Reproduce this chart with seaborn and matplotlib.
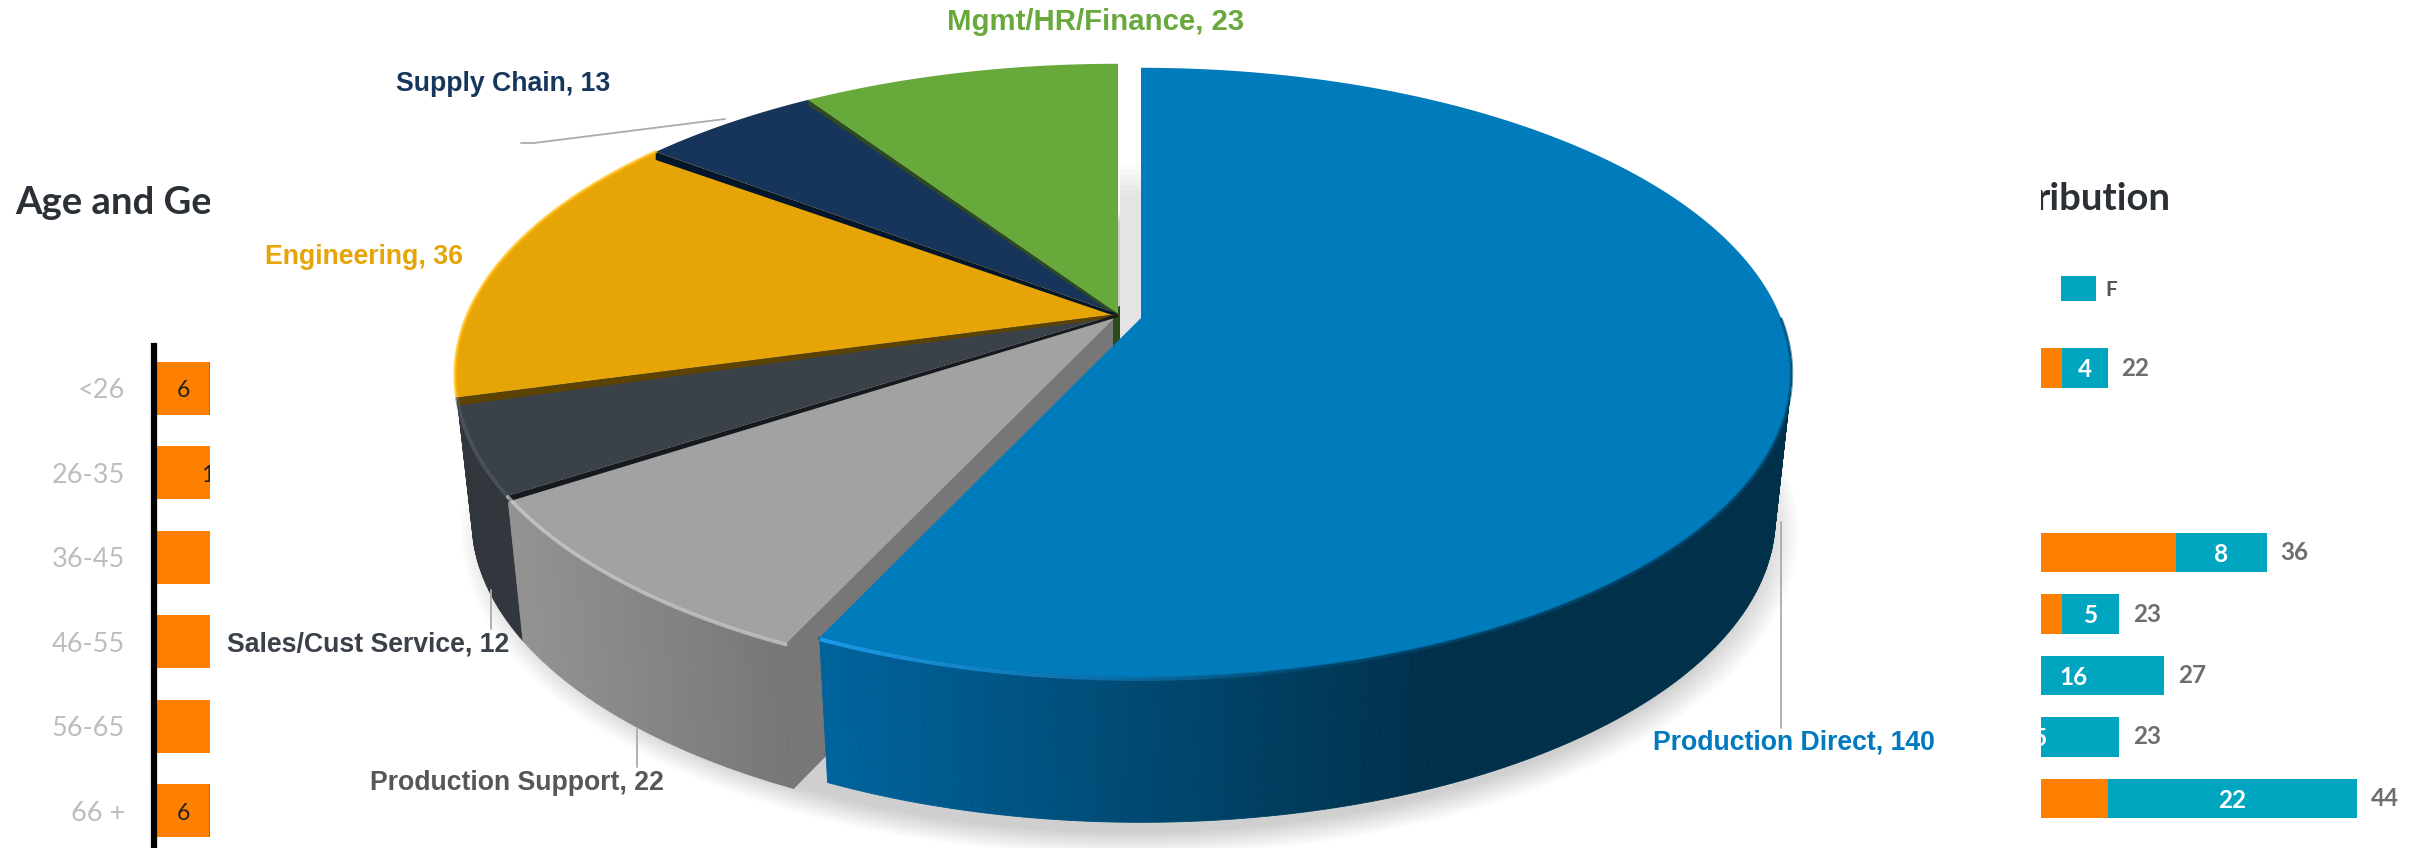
import numpy as np
import pandas as pd
import matplotlib
matplotlib.use("Agg")
import matplotlib.pyplot as plt
from matplotlib.colors import to_rgb
import seaborn as sns

# ---------- data ----------
pie_labels = ["Production Direct", "Production Support", "Sales/Cust Service", "Engineering", "Supply Chain", "Mgmt/HR/Finance"]
pie_values = [140, 22, 12, 36, 13, 23]
pie_colors = ["#007BBB", "#A2A2A2", "#3A4149", "#E6A406", "#17355B", "#68A93B"]
pie_cut_colors = ["#005a8c", "#777777", "#16191E", "#5C4203", "#04162B", "#2F4A1C"]

age_groups = ["<26", "26-35", "36-45", "46-55", "56-65", "66 +"]
age_m = [6, 13, 24, 30, 22, 6]
age_f = [1, 4, 8, 9, 6, 1]
age_m_labels = ["6", "13", "", "", "", "6"]

dist_rows = ["a", "b", "c", "d", "e", "f", "g", "h"]
dist_m = [18, np.nan, np.nan, 28, 18, 11, 8, 22]
dist_f = [4, np.nan, np.nan, 8, 5, 16, 15, 22]
dist_total = [22, np.nan, np.nan, 36, 23, 27, 23, 44]

W, H = 2428, 848
ORANGE, TEAL = "#FF8000", "#00A6C0"
sns.set_theme(style="white")
plt.rcParams["font.family"] = ["Lato", "DejaVu Sans"]
fig = plt.figure(figsize=(W / 100, H / 100), dpi=100, facecolor="white")

def px_axes(x0, y0, x1, y1):
    return fig.add_axes([x0 / W, 1 - y1 / H, (x1 - x0) / W, (y1 - y0) / H])

# ---------- left fragment: age bars ----------
PITCH_L = 84.5
axL = px_axes(154, 346, 210, 346 + 6 * PITCH_L)
dfL = pd.DataFrame({"age": age_groups, "m": age_m, "t": np.add(age_m, age_f)})
sns.barplot(dfL, y="age", x="t", color=TEAL, width=0.633, ax=axL, saturation=1, linewidth=0)
sns.barplot(dfL, y="age", x="m", color=ORANGE, width=0.633, ax=axL, saturation=1, linewidth=0)
axL.set_xlim(-3 / 8.75, 56 / 8.75 - 3 / 8.75)
axL.set_xlabel(""); axL.set_ylabel("")
axL.set_xticks([])
axL.tick_params(axis="y", length=0, pad=21, labelsize=19.5, labelcolor="#BDBDBD")
for s in ["top", "right", "bottom"]:
    axL.spines[s].set_visible(False)
axL.spines["left"].set_color("black")
axL.spines["left"].set_linewidth(4.5)
for i, (m, lab_) in enumerate(zip(age_m, age_m_labels)):
    if lab_:
        axL.text(m / 2, i + 0.03, lab_, ha="center", va="center", fontsize=16.5, color="#222222", clip_on=True)

# ---------- right fragment: stacked bars ----------
PITCH_R = 61.5
y0R = 368 - PITCH_R / 2
axR = px_axes(2041, y0R, W, y0R + 8 * PITCH_R)
dfR = pd.DataFrame({"row": dist_rows, "m": dist_m, "t": dist_total})
sns.barplot(dfR, y="row", x="t", color=TEAL, width=0.64, ax=axR, saturation=1, linewidth=0)
sns.barplot(dfR, y="row", x="m", color=ORANGE, width=0.64, ax=axR, saturation=1, linewidth=0)
SC = 11.35
axR.set_xlim((2041 - 1858) / SC, (W - 1858) / SC)
axR.set_xlabel(""); axR.set_ylabel("")
axR.set_xticks([]); axR.set_yticks([])
sns.despine(ax=axR, left=True, bottom=True)
for i, (m, f, t) in enumerate(zip(dist_m, dist_f, dist_total)):
    if np.isnan(t):
        continue
    axR.text(m + f / 2, i + 0.03, str(int(f)), ha="center", va="center", fontsize=17.5,
             color="white", fontweight="bold", clip_on=True)
    axR.text(t + 1.2, i, str(int(t)), ha="left", va="center", fontsize=17.5, color="#6E6E6E", fontweight="bold", clip_on=True)

# ---------- overlay axes in pixel space ----------
ax = fig.add_axes([0, 0, 1, 1], zorder=5)
ax.set_xlim(0, W); ax.set_ylim(H, 0); ax.axis("off"); ax.patch.set_alpha(0)

# clipped titles
clipL = plt.Rectangle((0, 0), 210, H, transform=ax.transData)
clipR = plt.Rectangle((2041, 0), W - 2041, H, transform=ax.transData)
t1 = ax.text(15, 203, "Age and Ge", fontsize=27.5, fontweight="bold", color="#2B2F36", ha="left", va="center")
t1.set_clip_path(clipL); t1.set_clip_on(True)
t2 = ax.text(2036, 199, "ribution", fontsize=27.5, fontweight="bold", color="#2B2F36", ha="left", va="center")
t2.set_clip_path(clipR); t2.set_clip_on(True)
# legend fragment
ax.add_patch(plt.Rectangle((2061, 275.5), 35, 25.5, color=TEAL, lw=0))
ax.text(2105, 290, "F", fontsize=15, fontweight="bold", color="#555555", ha="left", va="center")

# ---------- perspective pie ----------
DEPTH, SHR = 145, 0.975

def project(theta, r=1.0, cx=1141, cy=318, b=640, k=0.179, a=295, z=0.0):
    """theta clockwise from 12 o'clock, degrees; z in 0..1 is extrusion depth."""
    t = np.radians(theta)
    x, y = r * np.sin(t), r * np.cos(t)
    d = 1 + k * y
    s = 1 - (1 - SHR) * z
    return cx + s * b * x / d, cy + z * DEPTH - a * y / d

edges = np.concatenate([[0], np.cumsum(pie_values)]) * 360 / np.sum(pie_values)
spans = list(zip(edges[:-1], edges[1:]))
REST = dict(cx=1118, cy=314, b=650, k=0.195, a=299)
centres = [dict(cx=1141, cy=318, b=640, k=0.179, a=295)] + [REST] * 5

# soft shadow
th = np.linspace(0, 360, 240)
for i in range(16):
    gx, gy = project(th, r=1 + 0.0035 * i, cx=1130, cy=328, b=640, k=0.179, a=295, z=1)
    ax.fill(gx, gy, color="black", alpha=0.011, lw=0, zorder=1)

# back gap shading, fading upward
gap_top = np.arange(165, 200, 5)
for i, y_ in enumerate(gap_top):
    ax.fill([1120, 1142, 1142, 1120], [y_, y_, y_ + 5, y_ + 5], color="#E4E4E4",
            alpha=(i + 1) / len(gap_top), lw=0, zorder=1.5)
ax.fill([1120, 1142, 1142, 1120], [200, 200, 325, 345], color="#E4E4E4", lw=0, zorder=1.5)
ax.fill([1113, 1120, 1120, 1113], [308, 306, 340, 350], color=pie_cut_colors[5], lw=0, zorder=2.9)

def wall(i, a0, a1, colfun, zo):
    c = centres[i]
    a = np.arange(a0, a1, 0.6).tolist() + [a1]
    for u, v in zip(a[:-1], a[1:]):
        xa, ya = project(u, **c); xb, yb = project(v, **c)
        xc, yc = project(v, z=1, **c); xd, yd = project(u, z=1, **c)
        ax.fill([xa, xb, xc, xd], [ya, yb, yc, yd], color=colfun(0.5 * (xa + xb)), lw=0.6, zorder=zo)

def blue_col(x):
    t = np.clip((x - 833) / (1440 - 833), 0, 1)
    return tuple((1 - t) * np.array(to_rgb("#00639C")) + t * np.array(to_rgb("#00304A")))

def grey_col(x):
    t = np.clip((x - 520) / (800 - 520), 0, 1)
    return tuple((1 - t) * np.array(to_rgb("#929292")) + t * np.array(to_rgb("#757575")))

# cut face of the rest of the pie, exposed by the exploded main slice
g = centres[1]
ang = edges[1]
xa, ya = project(ang, r=0, **g); xb, yb = project(ang, **g)
xc, yc = project(ang, z=1, **g); xd, yd = project(ang, r=0, z=1, **g)
ax.fill([xa, xb, xc, xd], [ya, yb, yc, yd], color=pie_cut_colors[1], lw=0, zorder=2)

# walls of visible slices
wall(2, edges[2], edges[3], lambda x: "#31363D", 2.2)
wall(1, edges[1], edges[2], grey_col, 2.3)
wall(0, 90, edges[1], blue_col, 2.4)

# tops, from the back forward
for i in [5, 4, 3, 2, 1, 0]:
    a0, a1 = spans[i]
    c = centres[i]
    a = np.linspace(a0, a1, 240)
    x, y = project(a, **c)
    ax_, ay_ = project(a0, r=0, **c)
    ax.fill(np.r_[ax_, x], np.r_[ay_, y], color=pie_colors[i], lw=0, zorder=3 + 0.1 * (5 - i))
    if i in (2, 3, 4, 5):
        # thin cut face under the slice's first radial edge
        bx, by = project(a0, **c)
        gap = {3: 8, 4: 8, 5: 5, 2: 6}[i]
        ax.fill([ax_, bx, bx, ax_], [ay_, by, by + gap, ay_ + 3], color=pie_cut_colors[i], lw=0, zorder=3.6)
    rim = {1: "#D6D6D6", 2: "#555C64", 3: "#FFB800"}.get(i)
    if rim:
        # bevel light along the rim
        ax.plot(x, y + (1 if i < 3 else 0), color=rim, lw=2.6, zorder=3.7, solid_capstyle="round", alpha=0.65)
# blue rim: soft edge all round the wall, bright near the cut corner
a = np.linspace(90, edges[1], 240)
x, y = project(a, **centres[0])
ax.plot(x, y + 1, color="#004E78", lw=2.5, alpha=0.6, zorder=3.8)
a = np.linspace(edges[1] - 38, edges[1], 30)
x, y = project(a, **centres[0])
for j in range(len(a) - 1):
    ax.plot(x[j:j + 2], y[j:j + 2] + 1.5, color="#1B9AE6", lw=3, zorder=3.85,
            alpha=(j + 1) / (len(a) - 1), solid_capstyle="butt")

# ---------- labels ----------
LBL = ["Liberation Sans", "DejaVu Sans"]
def lab(x, y, s, c, fs=19.2):
    ax.text(x, y, s, color=c, fontsize=fs, fontweight="bold", family=LBL, ha="center", va="center", zorder=6)
lab(1096, 22, f"{pie_labels[5]}, {pie_values[5]}", "#69A83C", 21.2)
lab(503, 84, f"{pie_labels[4]}, {pie_values[4]}", "#17365D")
lab(364, 257, f"{pie_labels[3]}, {pie_values[3]}", "#E6A408")
lab(368, 645, f"{pie_labels[2]}, {pie_values[2]}", "#3A4149")
lab(517, 783, f"{pie_labels[1]}, {pie_values[1]}", "#575757")
lab(1794, 743, f"{pie_labels[0]}, {pie_values[0]}", "#0079BE")

# leader lines
LINE = dict(color="#ABABAB", lw=1.3)
ax.plot([521, 534, 725], [143, 143, 119], zorder=2.9, **LINE)
ax.plot([491, 491], [590, 629], zorder=3.95, **LINE)
ax.plot([637, 637], [728, 767], zorder=3.95, **LINE)
ax.plot([1781, 1781], [522, 728], zorder=3.95, **LINE)

fig.savefig("out.png", dpi=100)
